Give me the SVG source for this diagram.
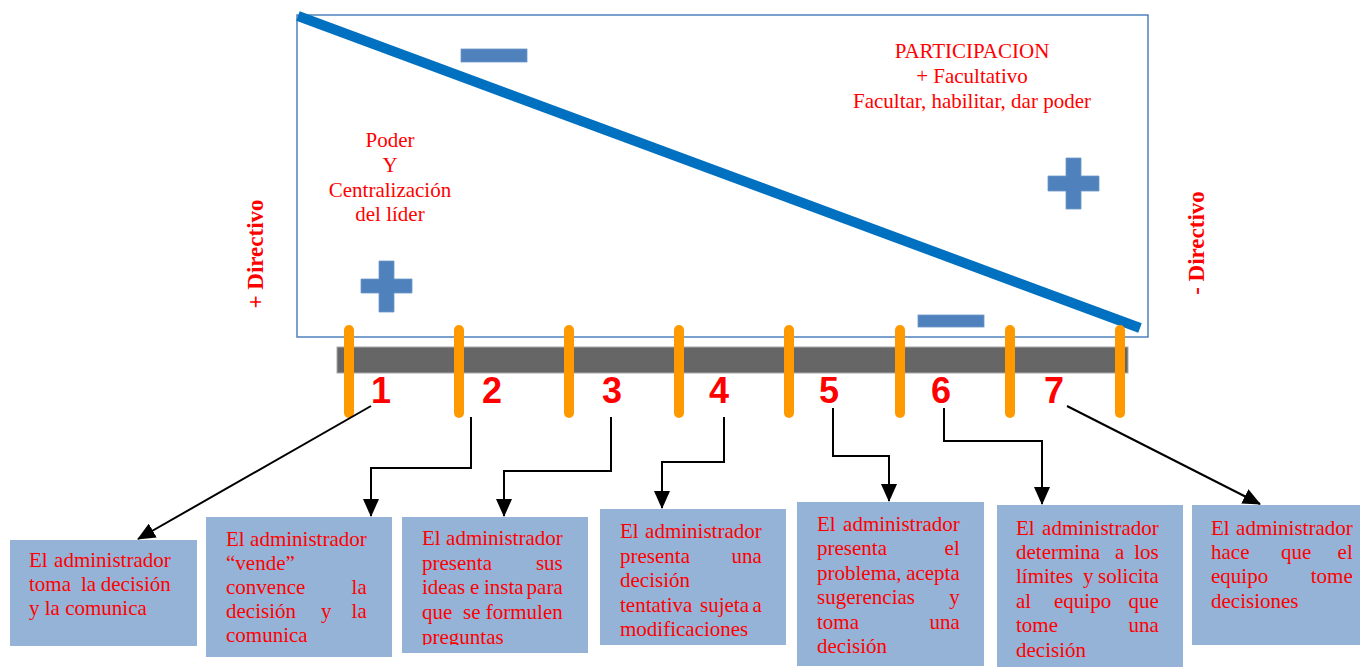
<svg xmlns="http://www.w3.org/2000/svg" width="1367" height="668" viewBox="0 0 1367 668">
<style>
.box{fill:#95b3d7}
.bt{font-family:'Liberation Serif',serif;font-size:21px;fill:#ff0000}
.tt{font-family:'Liberation Serif',serif;font-size:21px;fill:#ff0000;text-anchor:middle}
.dir{font-family:'Liberation Serif',serif;font-size:23px;font-weight:bold;fill:#ff0000;text-anchor:middle}
.num{font-family:'Liberation Sans',sans-serif;font-size:36px;font-weight:bold;fill:#ff0000;text-anchor:middle}
.tick{stroke:#ff9900;stroke-width:10;stroke-linecap:round}
.sym{fill:#4f81bd;stroke:#6f97c8;stroke-width:0.8}
.conn{fill:none;stroke:#000;stroke-width:2}
.e{text-anchor:end}
</style>
<defs>
<marker id="arr" markerUnits="userSpaceOnUse" markerWidth="18" markerHeight="16" viewBox="0 0 18 16" refX="17" refY="8" orient="auto">
<path d="M0,0 L18,8 L0,16 Z" fill="#000"/>
</marker>
<clipPath id="clip3"><rect x="402" y="517" width="186" height="128"/></clipPath>
</defs>

<g id="frame">
<rect x="297" y="15" width="851" height="322" fill="#fff" stroke="#4f81bd" stroke-width="1.5"/>
<line x1="298" y1="16" x2="1140" y2="328" stroke="#0070c0" stroke-width="10"/>
<rect class="sym" x="461" y="49" width="66" height="13"/>
<rect class="sym" x="918" y="315" width="66" height="12"/>
<path class="sym" d="M379,261 H394 V279 H412 V293 H394 V312 H379 V293 H361 V279 H379 Z"/>
<path class="sym" d="M1066,158 H1081 V176 H1099 V191 H1081 V209 H1066 V191 H1048 V176 H1066 Z"/>
<text class="tt"><tspan x="390" y="147">Poder</tspan><tspan x="390" y="172">Y</tspan><tspan x="390" y="197">Centralización</tspan><tspan x="390" y="221">del líder</tspan></text>
<text class="tt"><tspan x="972" y="58">PARTICIPACION</tspan><tspan x="972" y="83">+ Facultativo</tspan><tspan x="972" y="108">Facultar, habilitar, dar poder</tspan></text>
</g>

<g id="labels-side">
<text class="dir" transform="translate(263,254) rotate(-90)">+ Directivo</text>
<text class="dir" transform="translate(1204,243) rotate(-90)">- Directivo</text>
</g>

<g id="scale">
<rect x="337" y="347" width="791" height="26" fill="#666" stroke="#aaa" stroke-width="1"/>
<line class="tick" x1="349" y1="330" x2="349" y2="413"/>
<line class="tick" x1="459" y1="330" x2="459" y2="413"/>
<line class="tick" x1="569" y1="330" x2="569" y2="413"/>
<line class="tick" x1="679" y1="330" x2="679" y2="413"/>
<line class="tick" x1="789" y1="330" x2="789" y2="413"/>
<line class="tick" x1="900" y1="330" x2="900" y2="413"/>
<line class="tick" x1="1010" y1="330" x2="1010" y2="413"/>
<line class="tick" x1="1120" y1="330" x2="1120" y2="413"/>
<text class="num" x="381" y="403">1</text>
<text class="num" x="492" y="403">2</text>
<text class="num" x="612" y="403">3</text>
<text class="num" x="719" y="403">4</text>
<text class="num" x="829" y="403">5</text>
<text class="num" x="941" y="403">6</text>
<text class="num" x="1054" y="403">7</text>
</g>

<g id="connectors">
<path class="conn" d="M371,406 L138,539" marker-end="url(#arr)"/>
<path class="conn" d="M471,417 V468 H371 V516" marker-end="url(#arr)"/>
<path class="conn" d="M611,417 V471 H504 V516" marker-end="url(#arr)"/>
<path class="conn" d="M724,417 V462 H662 V508" marker-end="url(#arr)"/>
<path class="conn" d="M833,408 V456 H889 V501" marker-end="url(#arr)"/>
<path class="conn" d="M944,408 V441 H1042 V504" marker-end="url(#arr)"/>
<path class="conn" d="M1067,406 L1260,504" marker-end="url(#arr)"/>
</g>

<g id="box1">
<rect class="box" x="10" y="540" width="187" height="106"/>
<text class="bt"><tspan x="29" y="567">El</tspan><tspan class="e" x="176" y="567">administrador</tspan>
<tspan x="29" y="591">toma</tspan><tspan x="81" y="591">la</tspan><tspan class="e" x="176" y="591">decisión</tspan>
<tspan x="29" y="615">y la comunica</tspan></text>
</g>

<g id="box2">
<rect class="box" x="206" y="517" width="186" height="140"/>
<text class="bt"><tspan x="226" y="546">El</tspan><tspan class="e" x="372" y="546">administrador</tspan>
<tspan x="226" y="570">“vende”</tspan>
<tspan x="226" y="594">convence</tspan><tspan class="e" x="372" y="594">la</tspan>
<tspan x="226" y="618">decisión</tspan><tspan x="321" y="618">y</tspan><tspan class="e" x="372" y="618">la</tspan>
<tspan x="226" y="642">comunica</tspan></text>
</g>

<g id="box3">
<rect class="box" x="402" y="517" width="186" height="136"/>
<text class="bt" clip-path="url(#clip3)"><tspan x="422" y="545">El</tspan><tspan class="e" x="568" y="545">administrador</tspan>
<tspan x="422" y="570">presenta</tspan><tspan class="e" x="568" y="570">sus</tspan>
<tspan x="422" y="594">ideas</tspan><tspan x="470" y="594">e</tspan><tspan x="484" y="594">insta</tspan><tspan class="e" x="568" y="594">para</tspan>
<tspan x="422" y="619">que</tspan><tspan x="463" y="619">se</tspan><tspan class="e" x="568" y="619">formulen</tspan>
<tspan x="422" y="644">preguntas</tspan></text>
</g>

<g id="box4">
<rect class="box" x="600" y="509" width="186" height="136"/>
<text class="bt"><tspan x="620" y="538">El</tspan><tspan class="e" x="767" y="538">administrador</tspan>
<tspan x="620" y="563">presenta</tspan><tspan class="e" x="767" y="563">una</tspan>
<tspan x="620" y="587">decisión</tspan>
<tspan x="620" y="612">tentativa</tspan><tspan x="700" y="612">sujeta</tspan><tspan class="e" x="767" y="612">a</tspan>
<tspan x="620" y="636">modificaciones</tspan></text>
</g>

<g id="box5">
<rect class="box" x="797" y="502" width="187" height="164"/>
<text class="bt"><tspan x="817" y="531">El</tspan><tspan class="e" x="965" y="531">administrador</tspan>
<tspan x="817" y="555">presenta</tspan><tspan class="e" x="965" y="555">el</tspan>
<tspan x="817" y="580">problema,</tspan><tspan class="e" x="965" y="580">acepta</tspan>
<tspan x="817" y="604">sugerencias</tspan><tspan class="e" x="965" y="604">y</tspan>
<tspan x="817" y="629">toma</tspan><tspan class="e" x="965" y="629">una</tspan>
<tspan x="817" y="653">decisión</tspan></text>
</g>

<g id="box6">
<rect class="box" x="997" y="505" width="186" height="162"/>
<text class="bt"><tspan x="1016" y="535">El</tspan><tspan class="e" x="1164" y="535">administrador</tspan>
<tspan x="1016" y="559">determina</tspan><tspan x="1115" y="559">a</tspan><tspan class="e" x="1164" y="559">los</tspan>
<tspan x="1016" y="583">límites</tspan><tspan x="1083" y="583">y</tspan><tspan class="e" x="1164" y="583">solicita</tspan>
<tspan x="1016" y="608">al</tspan><tspan x="1054" y="608">equipo</tspan><tspan class="e" x="1164" y="608">que</tspan>
<tspan x="1016" y="632">tome</tspan><tspan class="e" x="1164" y="632">una</tspan>
<tspan x="1016" y="657">decisión</tspan></text>
</g>

<g id="box7">
<rect class="box" x="1192" y="505" width="168" height="140"/>
<text class="bt"><tspan x="1211" y="535">El</tspan><tspan class="e" x="1358" y="535">administrador</tspan>
<tspan x="1211" y="559">hace</tspan><tspan x="1281" y="559">que</tspan><tspan class="e" x="1358" y="559">el</tspan>
<tspan x="1211" y="583">equipo</tspan><tspan class="e" x="1358" y="583">tome</tspan>
<tspan x="1211" y="608">decisiones</tspan></text>
</g>
</svg>
